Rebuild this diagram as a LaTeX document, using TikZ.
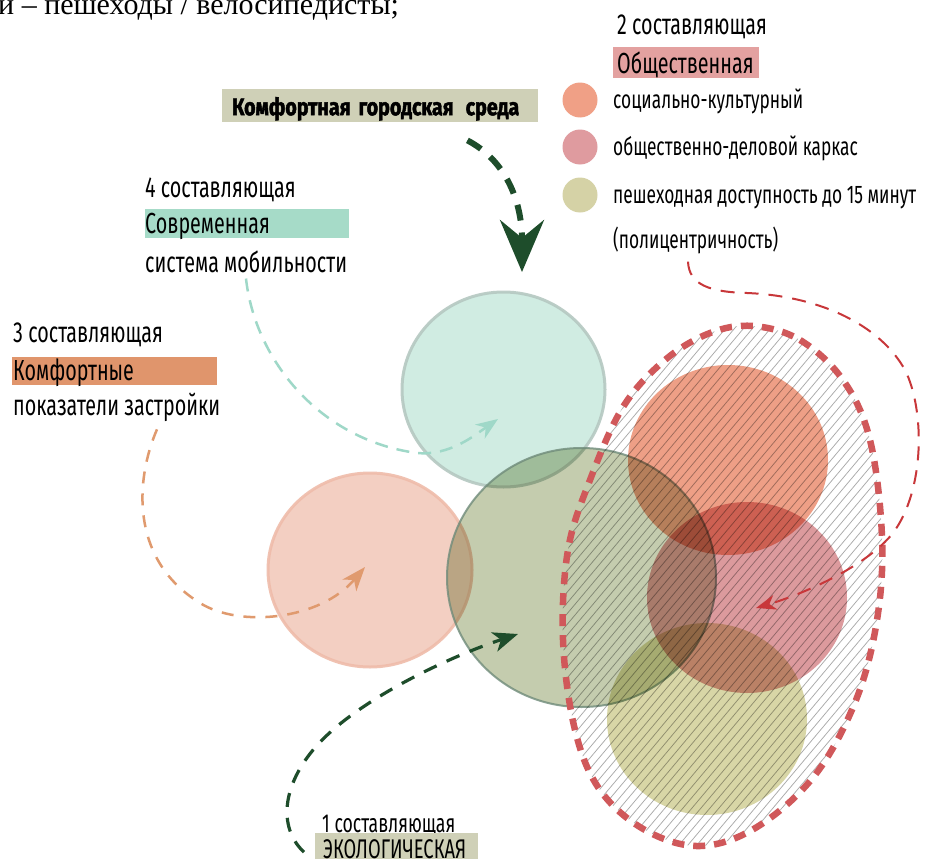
\documentclass[tikz,border=0pt]{standalone}
\usepackage{fontspec}
\setmainfont{Liberation Serif}
\newfontfamily\osw{Fira Sans}[FakeStretch=0.68]
\newfontfamily\oswb{Fira Sans}[FakeStretch=0.82, FakeBold=2]
\usetikzlibrary{arrows.meta}
\definecolor{khaki}{HTML}{CFD0B7}
\definecolor{pinkbox}{HTML}{E3A1A0}
\definecolor{mintbox}{HTML}{A6DBC8}
\definecolor{orangebox}{HTML}{E0956C}
\definecolor{dkgreen}{HTML}{1E4D2B}
\definecolor{tealline}{HTML}{9FD8C8}
\definecolor{orangeline}{HTML}{E09A6E}
\definecolor{redline}{HTML}{C8373A}
\definecolor{blobred}{HTML}{D0585A}
\definecolor{cteal}{HTML}{D0ECE2}
\definecolor{cteald}{HTML}{B5C8C1}
\definecolor{cpeach}{HTML}{F3CFC2}
\definecolor{cpeachd}{HTML}{EFBCAA}
\definecolor{cgreen}{HTML}{C4CCAE}
\definecolor{cgreend}{HTML}{6F8B7A}
\definecolor{corange}{HTML}{EE9F86}
\definecolor{crose}{HTML}{DC9A9D}
\definecolor{colive}{HTML}{D8D6A6}
\definecolor{legorange}{HTML}{F0A086}
\definecolor{legrose}{HTML}{DF9B9F}
\definecolor{legolive}{HTML}{D5D2A6}
\definecolor{hatchgray}{HTML}{AAAAAA}
\def\blobpath{plot[smooth cycle, tension=0.6] coordinates {(753,326) (800,340) (843,380) (870,440) (882,537) (877,620) (856,700) (815,775) (757,827) (700,846) (645,830) (600,790) (575,730) (563,640) (568,550) (590,480) (623,407) (665,360) (710,333)}}
\tikzset{
  lbl/.style={font=\osw\fontsize{29}{34}\selectfont, anchor=base west, inner sep=0pt},
  leglbl/.style={lbl, font=\osw\fontsize{25.5}{30}\selectfont},
  boxlbl/.style={lbl, anchor=north west, inner ysep=0pt, align=left},
  legdot/.style={circle, minimum size=35pt, inner sep=0pt},
  bigfill/.style={blend mode=multiply},
  bigrim/.style={draw opacity=0.9},
  topar/.style={draw=dkgreen, line width=6pt, dash pattern=on 16pt off 12pt, -{Stealth[length=52pt, width=44pt, inset=18pt]}},
  tealar/.style={draw=tealline, line width=2.5pt, dash pattern=on 13pt off 9pt, -{Stealth[length=22pt, width=17pt, inset=7pt]}},
  orangear/.style={draw=orangeline, line width=2.5pt, dash pattern=on 12pt off 10pt, -{Stealth[length=24pt, width=18pt, inset=7pt]}},
  greenar/.style={draw=dkgreen, line width=3.2pt, dash pattern=on 14pt off 11pt, -{Stealth[length=25pt, width=20pt, inset=7pt]}},
  redar/.style={draw=redline, line width=2pt, dash pattern=on 14pt off 10pt, -{Stealth[length=20pt, width=15pt, inset=6pt]}},
}
\begin{document}
\begin{tikzpicture}[x=1pt, y=-1pt]
\useasboundingbox (0,0) rectangle (926,859);
\fill[white] (0,0) rectangle (926,859);
\clip (0,0) rectangle (926,859);

% cropped line of text at the very top
\node[font=\fontsize{30}{32}\selectfont, anchor=base west, inner sep=0pt] (toptext) at (-2,14.5) {и – пешеходы / велосипедисты;};

% big circles
\coordinate (cT) at (503.5,389.5);
\coordinate (cP) at (370,570);
\coordinate (cG) at (581.5,577.5);
\coordinate (cO) at (728,460);
\coordinate (cR) at (747,597.5);
\coordinate (cL) at (707,719);
\fill[bigfill, cteal] (cT) ellipse [x radius=101.5, y radius=97.5];
\draw[bigrim, cteald, line width=3pt] (cT) ellipse [x radius=101.5, y radius=97.5];
\fill[bigfill, cpeach] (cP) ellipse [x radius=102, y radius=97];
\draw[bigrim, cpeachd, line width=3pt] (cP) ellipse [x radius=102, y radius=97];
\fill[bigfill, cgreen] (cG) ellipse [x radius=134.5, y radius=129.5];
\draw[bigrim, cgreend, line width=2pt, draw opacity=0.8] (cG) ellipse [x radius=134.5, y radius=129.5];
\fill[bigfill, corange] (cO) ellipse [x radius=100, y radius=95];
\fill[bigfill, crose] (cR) ellipse [x radius=100, y radius=95.5];
\fill[bigfill, colive] (cL) ellipse [x radius=100, y radius=96];

% hatching
\begin{scope}[blend mode=multiply]
\clip \blobpath;
\foreach \k in {0,...,92} {
  \draw[hatchgray, line width=0.75pt] (100+\k*9, 870) -- ++(470,-560);
}
\end{scope}
\draw[blobred, line width=6.5pt, dash pattern=on 12pt off 9pt] \blobpath;

% labels
\node[lbl] (t2a) at (617,35) {2 составляющая};
\node[boxlbl, fill=pinkbox, inner xsep=4pt, text width=138pt, text height=26pt, text depth=5pt] (t2b) at (613,47) {Общественная};
\node[legdot, fill=legorange] (d1) at (580,100) {};
\node[legdot, fill=legrose] (d2) at (580,147) {};
\node[legdot, fill=legolive] (d3) at (580,195) {};
\node[leglbl] (l1) at (613,108) {социально-культурный};
\node[leglbl] (l2) at (613,155) {общественно-деловой каркас};
\node[leglbl] (l3) at (613,203) {пешеходная доступность до 15 минут};
\node[leglbl] (poly) at (613,248) {(полицентричность)};

\node[boxlbl, fill=khaki, font=\oswb\bfseries\fontsize{24}{28}\selectfont, inner xsep=10pt, text width=296pt, text height=26pt, text depth=7pt] (title) at (222,89) {Комфортная городская\hspace{4pt} среда};

\node[lbl] (t4a) at (145,197) {4 составляющая};
\node[boxlbl, fill=mintbox, inner xsep=0pt, text width=204pt, text height=24pt, text depth=5pt] (t4b) at (145,209) {Современная};
\node[lbl] (t4c) at (145,272) {система мобильности};

\node[lbl] (t3a) at (13,342) {3 составляющая};
\node[boxlbl, fill=orangebox, inner xsep=1pt, text width=203pt, text height=23pt, text depth=5pt] (t3b) at (12,357) {Комфортные};
\node[lbl] (t3c) at (13,415) {показатели застройки};

\node[lbl, font=\osw\fontsize{26}{30}\selectfont] (t1a) at (322,832) {1 составляющая};
\node[boxlbl, fill=khaki, font=\osw\fontsize{27}{30}\selectfont, inner xsep=8pt, text width=147pt, text height=25pt, text depth=12pt] (t1b) at (315,833) {ЭКОЛОГИЧЕСКАЯ};

% connector end points
\coordinate (sTop) at ([shift={(-71,18)}]title.south east);
\coordinate (eTop) at (522,272);
\coordinate (sT) at ([shift={(101,6)}]t4c.south west);
\coordinate (wT) at (417,453);
\coordinate (eT) at (498,419);
\coordinate (sP) at ([shift={(144,8)}]t3c.south west);
\coordinate (wP) at (200,603);
\coordinate (eP) at (365,567);
\coordinate (sG) at ([shift={(-18,16)}]t1a.south west);
\coordinate (wG) at (313,750);
\coordinate (eG) at (518,634);
\coordinate (sR) at ([shift={(75,8)}]poly.south west);
\coordinate (wR1) at (747,293);
\coordinate (wR2) at (905,370);
\coordinate (wR3) at (893,533);
\coordinate (eR) at (756,608);

% connectors
\draw[topar] (sTop) .. controls (505,160) and (522,200) .. (eTop);
\draw[tealar] (sT) .. controls (255,360) and (320,440) .. (wT) .. controls (450,456) and (475,435) .. (eT);
\draw[orangear] (sP) .. controls (135,480) and (130,560) .. (wP) .. controls (240,628) and (320,620) .. (eP);
\draw[greenar] (sG) .. controls (280,830) and (280,790) .. (wG) .. controls (350,705) and (440,660) .. (eG);
\draw[redar] (sR) .. controls (689,285) and (710,292) .. (wR1) .. controls (820,296) and (880,325) .. (wR2) .. controls (925,410) and (925,490) .. (wR3) .. controls (865,568) and (800,595) .. (eR);
\end{tikzpicture}
\end{document}
